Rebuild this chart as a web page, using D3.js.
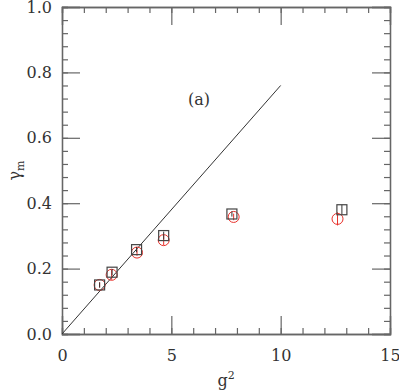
<!DOCTYPE html>
<html>
<head>
<meta charset="utf-8">
<script src="https://cdn.jsdelivr.net/npm/d3@7"></script>
<style>
  body { margin: 0; background: #fff; }
  text { font-family: "DejaVu Serif", serif; fill: #333; }
</style>
</head>
<body>
<div id="chart"></div>
<script>
// black squares
const sqX = [1.72, 2.29, 3.41, 4.65, 7.77, 12.8];
const sqY = [0.150, 0.189, 0.258, 0.301, 0.367, 0.380];
const sqErr = [0.008, 0.010, 0.008, 0.012, 0.008, 0.015];
// red circles
const ciX = [1.72, 2.27, 3.43, 4.65, 7.85, 12.6];
const ciY = [0.150, 0.181, 0.249, 0.287, 0.358, 0.352];
const ciErr = [0.008, 0.015, 0.010, 0.015, 0.010, 0.020];
// straight line endpoints
const lineX = [0, 10];
const lineY = [0, 0.76];
const xTicks = [0, 5, 10, 15];
const yTicks = [0, 0.2, 0.4, 0.6, 0.8, 1.0];

const width = 399, height = 391;
const margin = {left: 62, right: 9, top: 7, bottom: 57};

const svg = d3.select("#chart").append("svg")
    .attr("width", width)
    .attr("height", height);

const x = d3.scaleLinear().domain([0, 15]).range([margin.left, width - margin.right]);
const y = d3.scaleLinear().domain([0, 1]).range([height - margin.bottom, margin.top]);

const axisColor = "#666";

function styleAxis(g) {
    g.select(".domain").attr("stroke", axisColor).attr("stroke-width", 1.3);
    g.selectAll(".tick line").attr("stroke", axisColor).attr("stroke-width", 1.2);
    g.selectAll(".tick text").attr("font-size", 16).attr("fill", "#333")
        .attr("font-family", "DejaVu Serif, serif");
}

const xMinor = d3.range(0, 16, 1);
const yMinor = d3.range(0, 1.001, 0.04);

// bottom
svg.append("g").attr("transform", `translate(0,${y(0)})`)
    .call(d3.axisTop(x).tickValues(xMinor).tickSize(6).tickFormat(""))
    .call(styleAxis);
svg.append("g").attr("transform", `translate(0,${y(0)})`)
    .call(d3.axisTop(x).tickValues(xTicks).tickSize(18).tickFormat(""))
    .call(styleAxis);
svg.append("g").attr("transform", `translate(0,${y(0)})`)
    .call(d3.axisBottom(x).tickValues(xTicks).tickSize(0).tickPadding(16).tickFormat(d3.format("d")))
    .call(styleAxis)
    .call(g => g.select(".domain").remove());
// top
svg.append("g").attr("transform", `translate(0,${y(1)})`)
    .call(d3.axisBottom(x).tickValues(xMinor).tickSize(6).tickFormat(""))
    .call(styleAxis);
svg.append("g").attr("transform", `translate(0,${y(1)})`)
    .call(d3.axisBottom(x).tickValues(xTicks).tickSize(18).tickFormat(""))
    .call(styleAxis);
// left
svg.append("g").attr("transform", `translate(${x(0)},0)`)
    .call(d3.axisRight(y).tickValues(yMinor).tickSize(6).tickFormat(""))
    .call(styleAxis);
svg.append("g").attr("transform", `translate(${x(0)},0)`)
    .call(d3.axisRight(y).tickValues(yTicks).tickSize(18).tickFormat(""))
    .call(styleAxis);
svg.append("g").attr("transform", `translate(${x(0)},0)`)
    .call(d3.axisLeft(y).tickValues(yTicks).tickSize(0).tickPadding(10).tickFormat(d3.format(".1f")))
    .call(styleAxis)
    .call(g => g.select(".domain").remove());
// right
svg.append("g").attr("transform", `translate(${x(15)},0)`)
    .call(d3.axisLeft(y).tickValues(yMinor).tickSize(6).tickFormat(""))
    .call(styleAxis);
svg.append("g").attr("transform", `translate(${x(15)},0)`)
    .call(d3.axisLeft(y).tickValues(yTicks).tickSize(18).tickFormat(""))
    .call(styleAxis);

// line
svg.append("line")
    .attr("x1", x(lineX[0])).attr("y1", y(lineY[0]))
    .attr("x2", x(lineX[1])).attr("y2", y(lineY[1]))
    .attr("stroke", "#333").attr("stroke-width", 1);

// red circles with error bars
const red = "#e8302a";
const ci = svg.append("g");
ciX.forEach((v, i) => {
    ci.append("line")
        .attr("x1", x(v)).attr("x2", x(v))
        .attr("y1", y(ciY[i] - ciErr[i])).attr("y2", y(ciY[i] + ciErr[i]))
        .attr("stroke", red).attr("stroke-width", 1);
    ci.append("circle")
        .attr("cx", x(v)).attr("cy", y(ciY[i])).attr("r", 5.5)
        .attr("fill", "none").attr("stroke", red).attr("stroke-width", 1);
});

// black squares with error bars
const sq = svg.append("g");
sqX.forEach((v, i) => {
    sq.append("line")
        .attr("x1", x(v)).attr("x2", x(v))
        .attr("y1", y(sqY[i] - sqErr[i])).attr("y2", y(sqY[i] + sqErr[i]))
        .attr("stroke", "#333").attr("stroke-width", 1);
    sq.append("rect")
        .attr("x", x(v) - 5).attr("y", y(sqY[i]) - 5)
        .attr("width", 10).attr("height", 10)
        .attr("fill", "none").attr("stroke", "#444").attr("stroke-width", 1.2);
});

// annotation
svg.append("text").attr("x", x(6.27)).attr("y", y(0.70))
    .attr("font-size", 16).attr("text-anchor", "middle").text("(a)");

// axis labels
svg.append("text").attr("x", x(7.5)).attr("y", 386)
    .attr("font-size", 16).attr("text-anchor", "middle")
    .text("g")
    .append("tspan").attr("dy", -7).attr("font-size", 11).text("2");

svg.append("text")
    .attr("transform", `translate(20,${y(0.5)}) rotate(-90)`)
    .attr("font-size", 16).attr("text-anchor", "middle")
    .text("γ")
    .append("tspan").attr("dy", 4).attr("font-size", 11).text("m");
</script>
</body>
</html>
